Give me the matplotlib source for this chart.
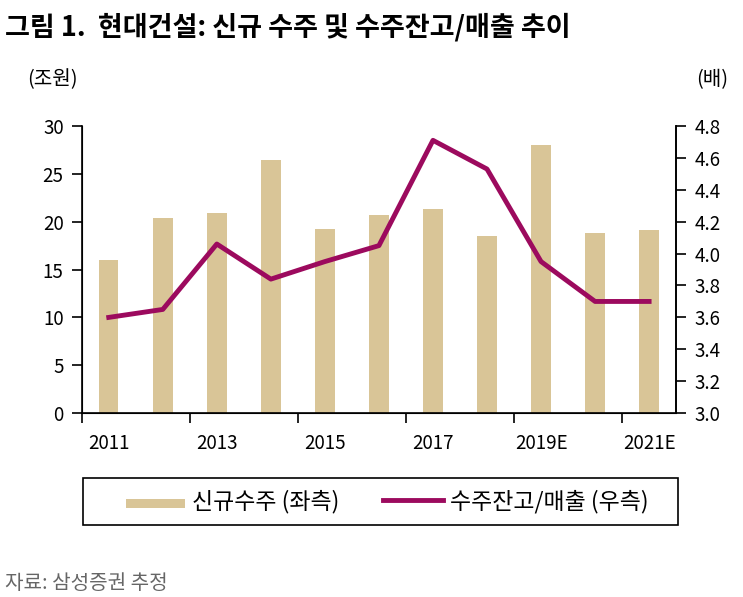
import numpy as np
import matplotlib.pyplot as plt
from matplotlib.patches import Rectangle

plt.rcParams['font.family'] = ['Noto Sans CJK KR', 'DejaVu Sans']

years = ['2011', '2012', '2013', '2014', '2015', '2016', '2017', '2018', '2019E', '2020E', '2021E']
new_orders = [16.0, 20.4, 20.9, 26.4, 19.2, 20.7, 21.3, 18.5, 28.0, 18.8, 19.1]
backlog_ratio = [3.60, 3.65, 4.06, 3.84, 3.95, 4.05, 4.71, 4.53, 3.95, 3.70, 3.70]

bar_color = '#d9c597'
line_color = '#9c0a5e'

fig = plt.figure(figsize=(7.43, 5.97), dpi=100)
ax = fig.add_axes([0.110, 0.308, 0.800, 0.481])
x = np.arange(len(years))

ax.bar(x, new_orders, width=0.36, color=bar_color, label='신규수주 (좌측)', zorder=2)
ax.set_ylim(0, 30)
ax.set_yticks(range(0, 31, 5))
ax.set_xlim(-0.5, len(years) - 0.5)

# labels on every second year, tick marks at the category boundaries
ax.set_xticks(x[::2])
ax.set_xticklabels(years[::2])
ax.set_xticks(np.arange(-0.5, len(years) - 0.5, 2), minor=True)
ax.tick_params(axis='x', which='major', length=0, labelsize=13.5, pad=14)
ax.tick_params(axis='x', which='minor', length=7, width=1.2, direction='out')
ax.tick_params(axis='y', length=7, width=1.2, labelsize=13.5, pad=6)
ax.spines['top'].set_visible(False)
for s in ['left', 'bottom', 'right']:
    ax.spines[s].set_linewidth(1.2)

ax2 = ax.twinx()
ax2.plot(x, backlog_ratio, color=line_color, lw=3.5, label='수주잔고/매출 (우측)', zorder=3)
ax2.set_ylim(3.0, 4.8)
ax2.set_yticks(np.arange(3.0, 4.81, 0.2))
ax2.set_yticklabels([f'{v:.1f}' for v in np.arange(3.0, 4.81, 0.2)])
ax2.tick_params(axis='y', length=7, width=1.2, labelsize=13.5, pad=6)
ax2.spines['top'].set_visible(False)
ax2.spines['right'].set_linewidth(1.2)

fig.text(0.007, 0.955, '그림 1.  현대건설: 신규 수주 및 수주잔고/매출 추이', fontsize=19.5,
         fontweight='bold', ha='left', va='center')
fig.text(0.071, 0.866, '(조원)', fontsize=14.5, ha='center', va='center')
fig.text(0.958, 0.866, '(배)', fontsize=14.5, ha='center', va='center')

# legend without its own frame; the wide box is drawn separately
h1, l1 = ax.get_legend_handles_labels()
h2, l2 = ax2.get_legend_handles_labels()
leg = fig.legend(h1 + h2, l1 + l2, loc='center', bbox_to_anchor=(0.521, 0.160),
                 ncol=2, fontsize=16.5, frameon=False,
                 handlelength=2.6, handletextpad=0.3, columnspacing=1.9,
                 borderpad=0, borderaxespad=0)
leg.legend_handles[0].set_height(7)
fig.patches.append(Rectangle((0.1117, 0.1206), 0.8008, 0.0787, transform=fig.transFigure,
                             fill=False, edgecolor='black', linewidth=1.2))

fig.text(0.007, 0.022, '자료: 삼성증권 추정', fontsize=14.5, color='#666666', ha='left', va='center')

fig.savefig('out.png', dpi=100)
